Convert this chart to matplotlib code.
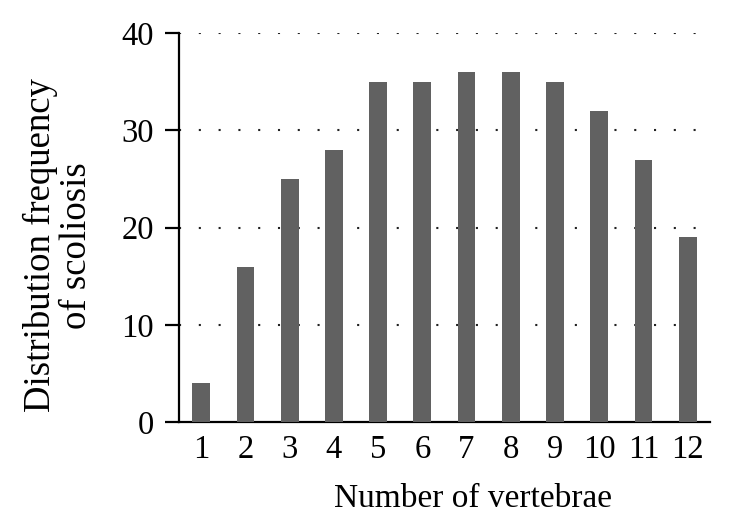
import matplotlib.pyplot as plt

vertebrae = [1, 2, 3, 4, 5, 6, 7, 8, 9, 10, 11, 12]
frequency = [4, 16, 25, 28, 35, 35, 36, 36, 35, 32, 27, 19]
y_ticks = [0, 10, 20, 30, 40]

plt.rcParams['font.family'] = ['Liberation Serif', 'DejaVu Serif']

fig = plt.figure(figsize=(7.31, 5.27), dpi=100)
ax = fig.add_axes([0.245, 0.199, 0.726, 0.738])

ax.bar(vertebrae, frequency, width=0.4, color='#616161', zorder=3)

ax.set_xlim(0.5, 12.5)
ax.set_ylim(0, 40)
ax.set_xticks(vertebrae)
ax.set_yticks(y_ticks)

# dotted gridlines
for y in y_ticks[1:]:
    ax.axhline(y, color='#222222', linewidth=1.5, linestyle=(0, (1, 8.5)), zorder=1)

for side in ['top', 'right']:
    ax.spines[side].set_visible(False)
ax.spines['left'].set_linewidth(1.6)
ax.spines['bottom'].set_linewidth(1.6)

ax.tick_params(axis='x', length=0, pad=9, labelsize=23.5)
ax.tick_params(axis='y', length=10, width=1.6, pad=8, labelsize=23.5)

ax.set_xlabel('Number of vertebrae', fontsize=24)
ax.set_ylabel('Distribution frequency\nof scoliosis', fontsize=26.5, linespacing=1.05)
ax.xaxis.set_label_coords(0.554, -0.157)
ax.yaxis.set_label_coords(-0.16, 0.455)

fig.savefig('out.png', dpi=100)
